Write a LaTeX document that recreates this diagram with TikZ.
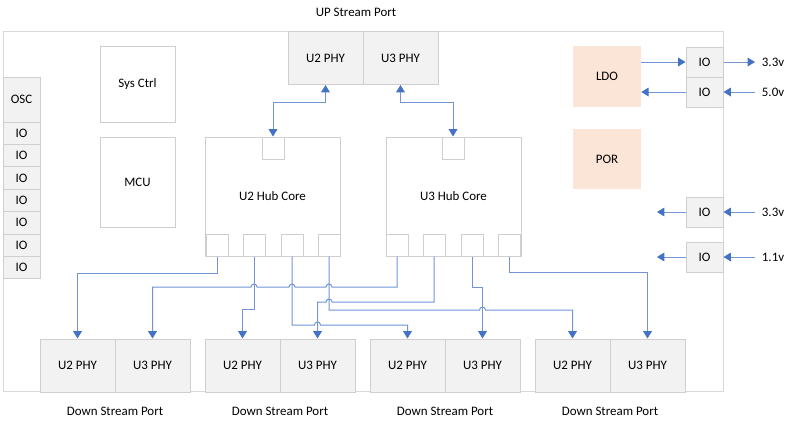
\documentclass[tikz,border=0pt]{standalone}
\usepackage{fontspec}
\setmainfont{Carlito}
\usetikzlibrary{arrows.meta, calc}

\definecolor{chipgray}{HTML}{D9D9D9}
\definecolor{edgegray}{HTML}{CFCFCF}
\definecolor{fillgray}{HTML}{F2F2F2}
\definecolor{peach}{HTML}{FBE5D6}
\definecolor{wireblue}{HTML}{7395D8}
\definecolor{tipblue}{HTML}{4472C4}

\begin{document}
\begin{tikzpicture}[x=0.75pt,y=-0.75pt,
  font=\fontsize{9.7pt}{11pt}\selectfont,
  box/.style={draw=edgegray,line width=0.75pt,fill=white,inner sep=0pt},
  phy/.style={box,fill=fillgray,minimum width=56.25pt,minimum height=39.75pt},
  iobox/.style={box,fill=fillgray,minimum width=27.75pt},
  port/.style={box,minimum size=16.5pt},
  core/.style={box,minimum width=101.25pt,minimum height=89.25pt},
  block/.style={fill=peach,minimum width=51pt,minimum height=45.5pt},
  volt/.style={anchor=west,inner xsep=5pt,inner ysep=0pt},
  wire/.style={draw=wireblue,line width=0.75pt,-{Triangle[width=6.5pt,length=5.5pt,color=tipblue]}},
  wire2/.style={wire,{Triangle[width=6.5pt,length=5.5pt,color=tipblue]}-{Triangle[width=6.5pt,length=5.5pt,color=tipblue]}}]
\useasboundingbox (0,0) rectangle (793,426);
\node[box,draw=chipgray,minimum width=540pt,minimum height=270pt] (chip) at (363,211) {};
\node (uplabel) at (356,12) {UP Stream Port};
\node[phy] (up2) at (325.5,58) {U2 PHY};
\node[phy] (up3) at (400.5,58) {U3 PHY};

\node[box,minimum width=56.25pt,minimum height=57pt] (sysctrl) at (137.5,84) {Sys Ctrl};
\node[box,minimum width=56.25pt,minimum height=67.5pt] (mcu) at (137.5,182) {MCU};

\node[core] (u2core) at (272.5,196.5) {U2 Hub Core};
\node[core] (u3core) at (453.5,196.5) {U3 Hub Core};
\node[port] (u2top) at (273,148) {};
\node[port] (u3top) at (453,148) {};
\foreach \i/\x in {a/217,b/254,c/292,d/329}
{
  \node[port] (u2\i) at (\x,245) {};
  \node[port] (u3\i) at (\x+180,245) {};
}

\foreach \k/\x in {1/77.5,2/242.5,3/407.5,4/572.5}
{
  \node[phy] (dsa\k) at (\x,365.5) {U2 PHY};
  \node[phy] (dsb\k) at (\x+75,365.5) {U3 PHY};
  \node (dsl\k) at (\x+37.5,411) {Down Stream Port};
}

\node[iobox,minimum height=33.75pt] (osc) at (21.5,99.5) {OSC};
\foreach \k in {1,...,7}
  \node[iobox,minimum height=16.8pt] (lio\k) at (21.5,{110.8+22.4*\k}) {IO};

\node[block] (ldo) at (607,76.5) {LDO};
\node[block] (por) at (607,159) {POR};
\foreach \n/\y/\v in {1/62/3.3v,2/92/5.0v,3/212/3.3v,4/257/1.1v}
{
  \node[iobox,minimum height=22.5pt] (rio\n) at (704.5,\y) {IO};
  \node[volt] (volt\n) at (755,\y) {\v};
}
\coordinate (out3) at (657,212);
\coordinate (out4) at (657,257);

\draw[wire] (ldo.east |- rio1.west) -- (rio1.west);
\draw[wire] (rio1.east) -- (volt1.west);
\draw[wire] (volt2.west) -- (rio2.east);
\draw[wire] (rio2.west) -- (ldo.east |- rio2.west);
\draw[wire] (volt3.west) -- (rio3.east);
\draw[wire] (rio3.west) -- (out3);
\draw[wire] (volt4.west) -- (rio4.east);
\draw[wire] (rio4.west) -- (out4);

\draw[wire2] (up2.south) -- ++(0,17) -| (u2top.north);
\draw[wire2] (up3.south) -- ++(0,17) -| (u3top.north);

\draw[wire] (u2a.south) -- ++(0,17) -| (dsa1.north);
\draw[wire] (u3a.south) -- (397,287) -- (332,287) arc[start angle=0,end angle=-180,radius=3]
  -- (295,287) arc[start angle=0,end angle=-180,radius=3]
  -- (257,287) arc[start angle=0,end angle=-180,radius=3] -| (dsb1.north);
\draw[wire] (u2b.south) -- ++(0,53) -| (dsa2.north);
\draw[wire] (u3b.south) -- (434,302) -- (332,302) arc[start angle=0,end angle=-180,radius=3] -| (dsb2.north);
\draw[wire] (u2c.south) -- (292,325) -- (314.5,325) arc[start angle=180,end angle=360,radius=3] -| (dsa3.north);
\draw[wire] (u3c.south) -- ++(0,31) -| (dsb3.north);
\draw[wire] (u2d.south) -- (329,310) -- (479.5,310) arc[start angle=180,end angle=360,radius=3] -| (dsa4.north);
\draw[wire] (u3d.south) -- ++(0,16) -| (dsb4.north);
\end{tikzpicture}
\end{document}
